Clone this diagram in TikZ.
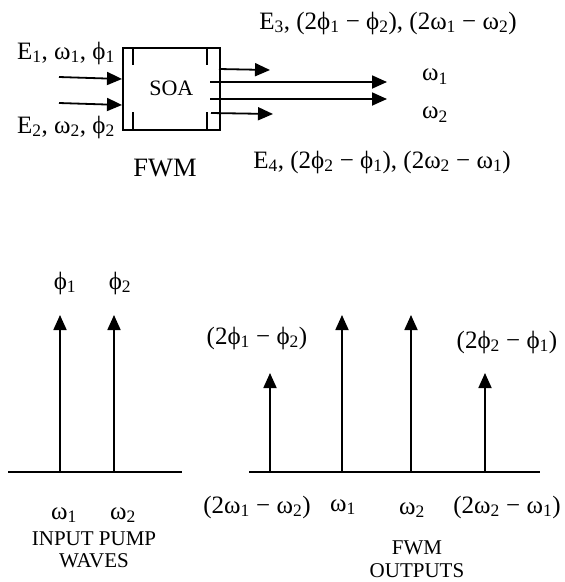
\documentclass[tikz,border=0pt]{standalone}
\usepackage{fontspec}
\setmainfont{Liberation Serif}
\usetikzlibrary{arrows.meta}
\newcommand{\sbx}[1]{\textsubscript{#1}}
\newcommand{\fph}{ϕ}
\newcommand{\fom}{ω}
\begin{document}
\begin{tikzpicture}[x=1pt,y=-1pt,
  lbl/.style={inner sep=0pt,font=\fontsize{25}{27}\selectfont},
  biglbl/.style={inner sep=0pt,font=\fontsize{26.5}{28}\selectfont},
  smalllbl/.style={inner sep=0pt,align=center,font=\fontsize{21}{22.5}\selectfont},
  arr/.style={line width=1.8pt,-{Triangle[length=15pt,width=13pt]}},
  axis/.style={line width=1.8pt},
  boxline/.style={line width=1.6pt}]
\useasboundingbox (0,0) rectangle (565,582);
% SOA box
\node[draw,boxline,minimum width=97pt,minimum height=82pt,inner sep=0pt,anchor=north west] (soa) at (122,47) {};
\node[inner sep=0pt,font=\fontsize{22}{24}\selectfont] (soat) at (soa.center) {SOA};
\draw[boxline] (133,47) -- (133,65) (133,112) -- (133,129)
               (207,47) -- (207,65) (207,112) -- (207,129);
% input labels
\node[lbl] (e1) at (66,53) {E\sbx{1}, \fom\sbx{1}, \fph\sbx{1}};
\node[lbl] (e2) at (66,127) {E\sbx{2}, \fom\sbx{2}, \fph\sbx{2}};
\node[biglbl] (fwm) at (165,168) {FWM};
% input arrows
\coordinate (i1s) at (59,77); \coordinate (i1e) at (122,79);
\coordinate (i2s) at (59,103); \coordinate (i2e) at (122,105);
\draw[arr] (i1s) -- (i1e);
\draw[arr] (i2s) -- (i2e);
% output arrows
\coordinate (o1s) at (219,69); \coordinate (o1e) at (270,70);
\coordinate (o2s) at (210,82); \coordinate (o2e) at (387,82);
\coordinate (o3s) at (210,99); \coordinate (o3e) at (387,99);
\coordinate (o4s) at (211,113); \coordinate (o4e) at (273,114);
\draw[arr] (o1s) -- (o1e);
\draw[arr] (o2s) -- (o2e);
\draw[arr] (o3s) -- (o3e);
\draw[arr] (o4s) -- (o4e);
% output labels
\node[lbl] (e3) at (388,23) {E\sbx{3}, (2\fph\sbx{1} − \fph\sbx{2}), (2\fom\sbx{1} − \fom\sbx{2})};
\node[lbl] (e4) at (382,162) {E\sbx{4}, (2\fph\sbx{2} − \fph\sbx{1}), (2\fom\sbx{2} − \fom\sbx{1})};
\node[lbl] (w1) at (435,77) {\fom\sbx{1}};
\node[lbl] (w2) at (435,115) {\fom\sbx{2}};
% bottom left spectrum
\coordinate (al) at (8,472); \coordinate (ar) at (182,472);
\draw[axis] (al) -- (ar);
\coordinate (p1b) at (60,472); \coordinate (p1t) at (60,315);
\coordinate (p2b) at (114,472); \coordinate (p2t) at (114,315);
\draw[arr] (p1b) -- (p1t);
\draw[arr] (p2b) -- (p2t);
\node[lbl] (ph1) at (65,283) {\fph\sbx{1}};
\node[lbl] (ph2) at (120,283) {\fph\sbx{2}};
\node[lbl] (om1) at (64,515) {\fom\sbx{1}};
\node[lbl] (om2) at (123,515) {\fom\sbx{2}};
\node[smalllbl] (inp) at (94,550) {INPUT PUMP\\WAVES};
% bottom right spectrum
\coordinate (bl) at (249,472); \coordinate (br) at (540,472);
\draw[axis] (bl) -- (br);
\coordinate (q1b) at (270,472); \coordinate (q1t) at (270,373);
\coordinate (q2b) at (342,472); \coordinate (q2t) at (342,315);
\coordinate (q3b) at (411,472); \coordinate (q3t) at (411,315);
\coordinate (q4b) at (485,472); \coordinate (q4t) at (485,373);
\draw[arr] (q1b) -- (q1t);
\draw[arr] (q2b) -- (q2t);
\draw[arr] (q3b) -- (q3t);
\draw[arr] (q4b) -- (q4t);
\node[lbl] (t1) at (257,338) {(2\fph\sbx{1} − \fph\sbx{2})};
\node[lbl] (t4) at (507,342) {(2\fph\sbx{2} − \fph\sbx{1})};
\node[lbl] (f1) at (257,507) {(2\fom\sbx{1} − \fom\sbx{2})};
\node[lbl] (f2) at (343,507) {\fom\sbx{1}};
\node[lbl] (f3) at (412,510) {\fom\sbx{2}};
\node[lbl] (f4) at (507,507) {(2\fom\sbx{2} − \fom\sbx{1})};
\node[smalllbl] (outp) at (417,559) {FWM\\OUTPUTS};
\end{tikzpicture}
\end{document}
